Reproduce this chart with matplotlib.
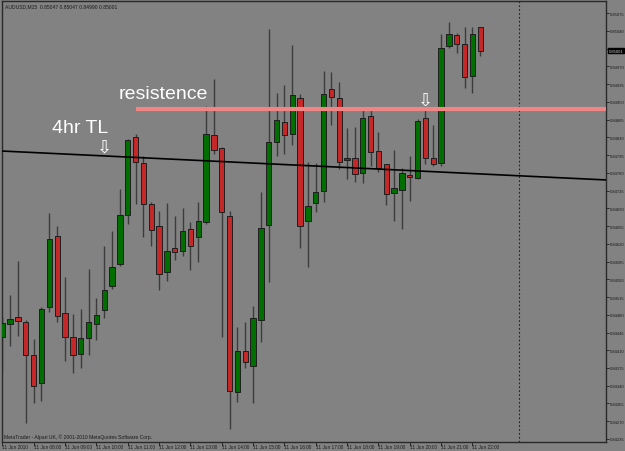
import matplotlib
matplotlib.use("Agg")
import matplotlib.pyplot as plt

# AUDUSD M15 candles, 11 Jun 2010
opens = [0.84436, 0.84462, 0.84476, 0.84466, 0.84401, 0.84345, 0.84495, 0.84635, 0.84483, 0.84436,
         0.84403, 0.84434, 0.84462, 0.84489, 0.84537, 0.84580, 0.84677, 0.84830, 0.84779, 0.84698,
         0.84655, 0.84564, 0.84612, 0.84606, 0.84649, 0.84633, 0.84663, 0.84834, 0.84809, 0.84675,
         0.84328, 0.84409, 0.84379, 0.84470, 0.84657, 0.84821, 0.84860, 0.84836, 0.84907, 0.84665,
         0.84700, 0.84724, 0.84925, 0.84907, 0.84785, 0.84789, 0.84760, 0.84872, 0.84803, 0.84777,
         0.84720, 0.84726, 0.84756, 0.84750, 0.84868, 0.84789, 0.84779, 0.85010, 0.85032, 0.85014,
         0.84951, 0.85047]
highs = [0.84476, 0.84519, 0.84586, 0.84470, 0.84432, 0.84495, 0.84681, 0.84655, 0.84554, 0.84482,
         0.84491, 0.84570, 0.84513, 0.84616, 0.84645, 0.84728, 0.84827, 0.84836, 0.84793, 0.84702,
         0.84685, 0.84700, 0.84675, 0.84690, 0.84663, 0.84702, 0.84892, 0.84945, 0.84811, 0.84685,
         0.84456, 0.84466, 0.84497, 0.84722, 0.85043, 0.84917, 0.84933, 0.85012, 0.84915, 0.84781,
         0.84779, 0.84961, 0.84959, 0.84939, 0.84848, 0.84850, 0.84886, 0.84886, 0.84840, 0.84777,
         0.84805, 0.84769, 0.84793, 0.84866, 0.84892, 0.84854, 0.85034, 0.85057, 0.85036, 0.85047,
         0.85047, 0.85047]
lows = [0.84367, 0.84418, 0.84438, 0.84267, 0.84306, 0.84310, 0.84485, 0.84466, 0.84389, 0.84365,
        0.84375, 0.84401, 0.84430, 0.84474, 0.84531, 0.84576, 0.84659, 0.84698, 0.84633, 0.84616,
        0.84529, 0.84547, 0.84588, 0.84596, 0.84568, 0.84584, 0.84659, 0.84797, 0.84436, 0.84255,
        0.84308, 0.84375, 0.84306, 0.84426, 0.84545, 0.84793, 0.84797, 0.84815, 0.84612, 0.84574,
        0.84683, 0.84702, 0.84854, 0.84767, 0.84748, 0.84742, 0.84740, 0.84773, 0.84761, 0.84696,
        0.84665, 0.84649, 0.84704, 0.84748, 0.84777, 0.84773, 0.84773, 0.85006, 0.84996, 0.84927,
        0.84917, 0.84990]
closes = [0.84464, 0.84472, 0.84468, 0.84401, 0.84340, 0.84491, 0.84629, 0.84478, 0.84436, 0.84401,
          0.84434, 0.84466, 0.84480, 0.84529, 0.84574, 0.84677, 0.84825, 0.84781, 0.84698, 0.84647,
          0.84560, 0.84606, 0.84604, 0.84645, 0.84616, 0.84665, 0.84836, 0.84805, 0.84683, 0.84330,
          0.84409, 0.84387, 0.84474, 0.84651, 0.84821, 0.84864, 0.84834, 0.84913, 0.84655, 0.84694,
          0.84722, 0.84915, 0.84909, 0.84781, 0.84789, 0.84758, 0.84868, 0.84801, 0.84769, 0.84718,
          0.84730, 0.84760, 0.84752, 0.84862, 0.84789, 0.84777, 0.85006, 0.85034, 0.85014, 0.84949,
          0.85034, 0.85001]

time_ticks = [0, 4, 8, 12, 16, 20, 24, 28, 32, 36, 40, 44, 48, 52, 56, 60]
time_labels = ["11 Jun 2010", "11 Jun 08:00", "11 Jun 09:00", "11 Jun 10:00", "11 Jun 11:00",
               "11 Jun 12:00", "11 Jun 13:00", "11 Jun 14:00", "11 Jun 15:00", "11 Jun 16:00",
               "11 Jun 17:00", "11 Jun 18:00", "11 Jun 19:00", "11 Jun 20:00", "11 Jun 21:00",
               "11 Jun 22:00"]
price_ticks = [round(0.84235 + 0.00035 * k, 5) for k in range(25)]

# hand drawn objects on the chart
resistance = 0.84886
resistance_start = 17
tl_x = [0, 77]
tl_y = [0.84803, 0.84746]
arrow_x = [13, 54]
arrow_y = [0.84811, 0.84905]
separator_x = 66
bid = closes[-1]

BG = "#828282"
UP = "#006e00"
DOWN = "#c42828"

fig = plt.figure(figsize=(6.25, 4.52), dpi=100, facecolor=BG)
ax = fig.add_axes([2 / 625, 1 - 443 / 452, 604 / 625, 441 / 452])
ax.set_facecolor(BG)

n = len(opens)
idx = list(range(n))
ax.vlines(idx, lows, highs, color="#3c3c3c", lw=1, zorder=2)
bottoms = [min(o, c) for o, c in zip(opens, closes)]
heights = [max(abs(c - o), 0.00002) for o, c in zip(opens, closes)]
colors = [UP if c >= o else DOWN for o, c in zip(opens, closes)]
ax.bar(idx, heights, bottom=bottoms, width=0.68, color=colors,
       edgecolor="#1e1e1e", linewidth=0.7, zorder=3)

# trend line and resistance
ax.axline((tl_x[0], tl_y[0]), (tl_x[1], tl_y[1]), color="black", lw=1.2, zorder=4)
ax.hlines(resistance, resistance_start, 78, color="#ef8585", lw=3, zorder=4)
ax.axvline(separator_x, color="#202020", lw=0.8, ls=(0, (1.5, 2)), zorder=1)

for x, y in zip(arrow_x, arrow_y):
    ax.text(x, y, "\u21e9", color="white", fontsize=13, ha="center", va="center",
            family="DejaVu Sans", zorder=5)

ax.text(6.3, 0.84850, "4hr TL", color="white", fontsize=14, family="Liberation Sans",
        ha="left", va="center", zorder=5)
ax.text(14.8, 0.84917, "resistence", color="white", fontsize=14, family="Liberation Sans",
        ha="left", va="center", zorder=5)

ax.set_xlim(-0.04, 77.04)
ax.set_ylim(0.84229, 0.85099)

# the tick under the bid box is hidden in MT4
ax.yaxis.tick_right()
ax.set_yticks(price_ticks)
ax.set_yticklabels(["" if abs(p - bid) < 0.0001 else "%.5f" % p for p in price_ticks])
ax.set_xticks(time_ticks)
ax.set_xticklabels(time_labels, ha="left")
ax.tick_params(axis="y", length=2, width=0.6, pad=0.5, labelsize=3.0, colors="#1a1a1a")
ax.tick_params(axis="x", length=3, width=0.6, pad=-1.4, labelsize=3.4, colors="#1a1a1a")
for lab in ax.get_xticklabels() + ax.get_yticklabels():
    lab.set_family("Liberation Sans")
for sp in ax.spines.values():
    sp.set_color("#2a2a2a")
    sp.set_linewidth(1)

ax.text(1.0045, bid, "%.5f" % bid, transform=ax.get_yaxis_transform(), fontsize=3.0,
        family="Liberation Sans", color="#d0d0d0", ha="left", va="center", clip_on=False,
        bbox=dict(boxstyle="square,pad=0.15", fc="black", ec="black"), zorder=6)

ax.text(0.005, 0.994, "AUDUSD,M15  %.5f %.5f %.5f %.5f" % (opens[-1], highs[-1], lows[-1], closes[-1]),
        transform=ax.transAxes, fontsize=3.6, family="Liberation Sans", color="#1a1a1a",
        ha="left", va="top")
ax.text(0.003, 0.006, "MetaTrader - Alpari UK, \u00a9 2001-2010 MetaQuotes Software Corp.",
        transform=ax.transAxes, fontsize=3.6, family="Liberation Sans", color="#1a1a1a",
        ha="left", va="bottom")

fig.savefig("out.png", dpi=100, facecolor=BG)
